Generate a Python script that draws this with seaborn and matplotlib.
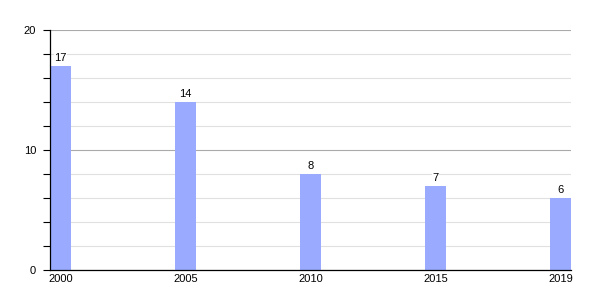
import matplotlib
matplotlib.use("Agg")
import matplotlib.pyplot as plt
import seaborn as sns
import pandas as pd
from matplotlib.ticker import MultipleLocator

years = ["2000", "2005", "2010", "2015", "2019"]
values = [17, 14, 8, 7, 6]

sns.set_style("white")
plt.rcParams['font.family'] = ['Liberation Sans', 'DejaVu Sans']
plt.rcParams['text.color'] = 'black'
plt.rcParams['xtick.color'] = 'black'
plt.rcParams['ytick.color'] = 'black'

df = pd.DataFrame({"year": years, "value": values})

fig = plt.figure(figsize=(6, 3), dpi=100)
ax = fig.add_axes([50/600, 30/300, 521/600, 240/300])

sns.barplot(data=df, x="year", y="value", color="#9aabff", width=0.168,
            saturation=1, ax=ax, zorder=3, linewidth=0)

ax.set_xlim(-0.084, 4.084)
ax.set_ylim(0, 20)
ax.yaxis.set_major_locator(MultipleLocator(10))
ax.yaxis.set_minor_locator(MultipleLocator(2))
ax.grid(which="major", axis="y", color="#aaaaaa", linewidth=0.8, zorder=0)
ax.grid(which="minor", axis="y", color="#e0e0e0", linewidth=0.8, zorder=0)
ax.set_axisbelow(True)

for s in ["right", "top"]:
    ax.spines[s].set_visible(False)
for s in ["left", "bottom"]:
    ax.spines[s].set_color("black")
    ax.spines[s].set_linewidth(0.9)
    ax.spines[s].set_zorder(10)

ax.tick_params(axis="y", which="both", direction="out", length=5, width=0.8,
               color="black", left=True, labelsize=8, pad=5, labelcolor="black")
ax.tick_params(axis="x", length=0, labelsize=8, pad=3, labelcolor="black")
ax.set_xlabel("")
ax.set_ylabel("")

for c in ax.containers:
    ax.bar_label(c, labels=[str(v) for v in values], fontsize=8, padding=2,
                 color="black", zorder=5,
                 bbox=dict(facecolor="white", edgecolor="none", pad=0.5))

fig.savefig("out.png", dpi=100)
